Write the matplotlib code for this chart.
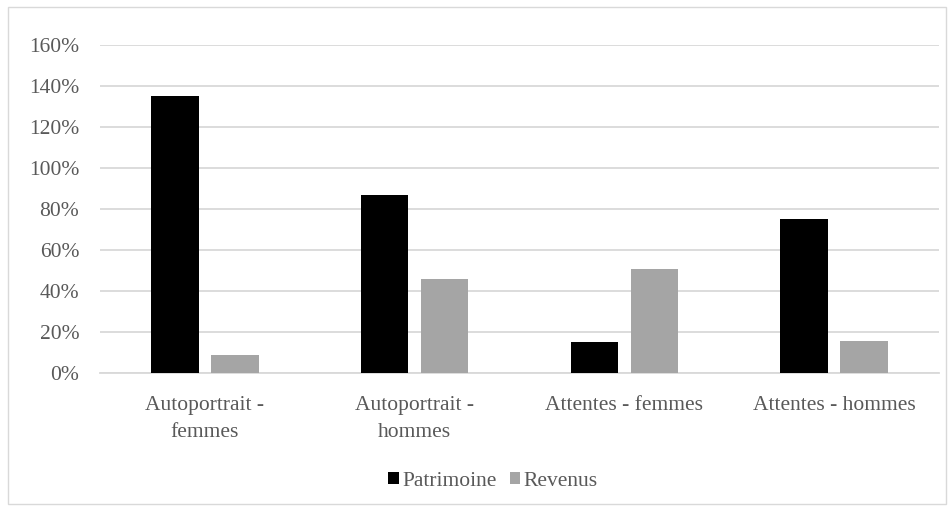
import matplotlib
matplotlib.use("Agg")
import matplotlib.pyplot as plt
import numpy as np
from matplotlib.patches import Rectangle

plt.rcParams['font.family'] = ['Liberation Serif', 'DejaVu Serif']

categories = ['Autoportrait -\nfemmes', 'Autoportrait -\nhommes',
              'Attentes - femmes', 'Attentes - hommes']
patrimoine = [135, 87, 15, 75]
revenus = [9, 46, 51, 15.6]
yticks = [0, 20, 40, 60, 80, 100, 120, 140, 160]

text_col = '#595959'
grid_col = '#d9d9d9'
fs = 15.5

fig = plt.figure(figsize=(9.53, 5.12), dpi=100)
# outer chart border
fig.patches.append(Rectangle((8 / 953, 8 / 512), 938 / 953, 497 / 512,
                             transform=fig.transFigure, fill=False,
                             edgecolor=grid_col, linewidth=1))

ax = fig.add_axes([100 / 953, 1 - 373.3 / 512, 839 / 953, 328.6 / 512])

x = np.arange(len(categories))
w = 0.226
off = 0.143
ax.bar(x - off, patrimoine, w, color='black', label='Patrimoine', zorder=3)
ax.bar(x + off, revenus, w, color='#a5a5a5', label='Revenus', zorder=3)

ax.set_xlim(-0.5, len(categories) - 0.5)
ax.set_ylim(0, 160)
ax.set_yticks(yticks)
ax.set_yticklabels([f'{v}%' for v in yticks])
ax.set_xticks(x)
ax.set_xticklabels(categories, linespacing=1.6)
ax.yaxis.grid(True, color=grid_col, linewidth=1.3, zorder=0)
ax.tick_params(axis='both', length=0, labelsize=fs, colors=text_col)
ax.tick_params(axis='y', pad=15)
ax.tick_params(axis='x', pad=16)
for s in ['top', 'right', 'left']:
    ax.spines[s].set_visible(False)
ax.spines['bottom'].set_color(grid_col)
ax.spines['bottom'].set_linewidth(1.3)

leg = fig.legend(loc='center', bbox_to_anchor=(493 / 953, 1 - 481 / 512),
                 ncol=2, frameon=False, fontsize=fs, handlelength=0.5,
                 handleheight=0.5, handletextpad=0.15, columnspacing=0.6)
for t in leg.get_texts():
    t.set_color(text_col)

fig.savefig('out.png', dpi=100)
